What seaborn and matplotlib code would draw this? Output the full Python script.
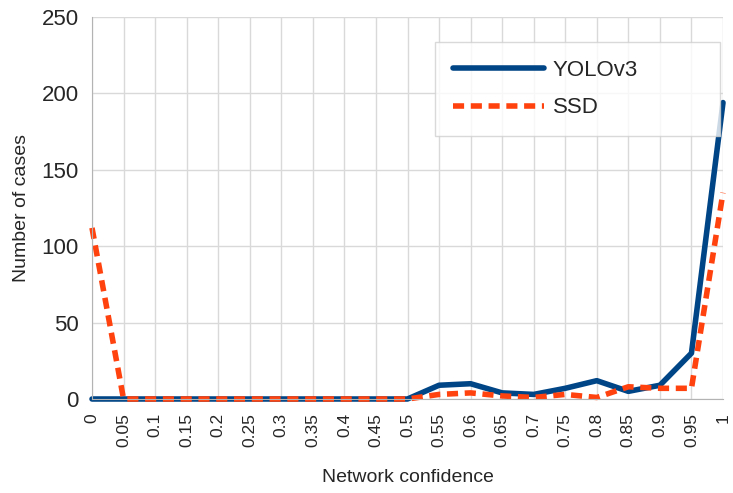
import numpy as np
import pandas as pd
import seaborn as sns
import matplotlib.pyplot as plt

confidence = [0, 0.05, 0.1, 0.15, 0.2, 0.25, 0.3, 0.35, 0.4, 0.45, 0.5,
              0.55, 0.6, 0.65, 0.7, 0.75, 0.8, 0.85, 0.9, 0.95, 1]
tick_labels = ['0', '0.05', '0.1', '0.15', '0.2', '0.25', '0.3', '0.35', '0.4', '0.45', '0.5',
               '0.55', '0.6', '0.65', '0.7', '0.75', '0.8', '0.85', '0.9', '0.95', '1']
yolo = [0, 0, 0, 0, 0, 0, 0, 0, 0, 0, 0, 9, 10, 4, 3, 7, 12, 5, 9, 30, 194]
ssd = [112, 0, 0, 0, 0, 0, 0, 0, 0, 0, 0, 3, 4, 2, 1, 3, 1, 8, 7, 7, 135]

df = pd.DataFrame({'Network confidence': confidence * 2,
                   'Number of cases': yolo + ssd,
                   'model': ['YOLOv3'] * len(yolo) + ['SSD'] * len(ssd)})

sns.set_style('white')
plt.rcParams['font.family'] = ['Liberation Sans', 'DejaVu Sans']

fig = plt.figure(figsize=(7.33, 4.93), dpi=100)
ax = fig.add_axes([92 / 733, 1 - 399 / 493, (723 - 92) / 733, (399 - 17) / 493])

sns.lineplot(data=df, x='Network confidence', y='Number of cases', hue='model',
             style='model', palette={'YOLOv3': '#004586', 'SSD': '#ff420e'},
             dashes={'YOLOv3': '', 'SSD': (2, 1.2)}, linewidth=4, ax=ax)
for line in ax.get_lines():
    line.set_clip_on(False)

ax.set_xlim(0, 1)
ax.set_ylim(0, 250)
ax.set_xticks(confidence)
ax.set_xticklabels(tick_labels, rotation=90, fontsize=12.5)
ax.set_yticks(np.arange(0, 251, 50))
ax.tick_params(axis='y', labelsize=16, length=6, color='#b3b3b3')
ax.tick_params(axis='x', length=6, color='#b3b3b3', pad=4)
ax.grid(True, color='#d9d9d9', linewidth=1)
ax.set_axisbelow(True)
for s in ['top', 'right']:
    ax.spines[s].set_visible(False)
for s in ['left', 'bottom']:
    ax.spines[s].set_color('#b3b3b3')
ax.set_xlabel('Network confidence', fontsize=14, labelpad=16)
ax.set_ylabel('Number of cases', fontsize=14, labelpad=8)

leg = ax.legend(title=None, loc='upper left', mode='expand',
                bbox_to_anchor=(343 / 631, (399 - 42) / 382, (720 - 435) / 631, 0),
                fontsize=16, frameon=True, fancybox=False, edgecolor='#d0d0d0',
                handlelength=4.1, borderpad=0.8, labelspacing=0.75, handletextpad=0.4,
                borderaxespad=0)
leg.get_frame().set_linewidth(1)
leg._legend_box.align = 'left'
for line in leg.get_lines():
    line.set_linewidth(4)

fig.savefig('out.png', dpi=100)
